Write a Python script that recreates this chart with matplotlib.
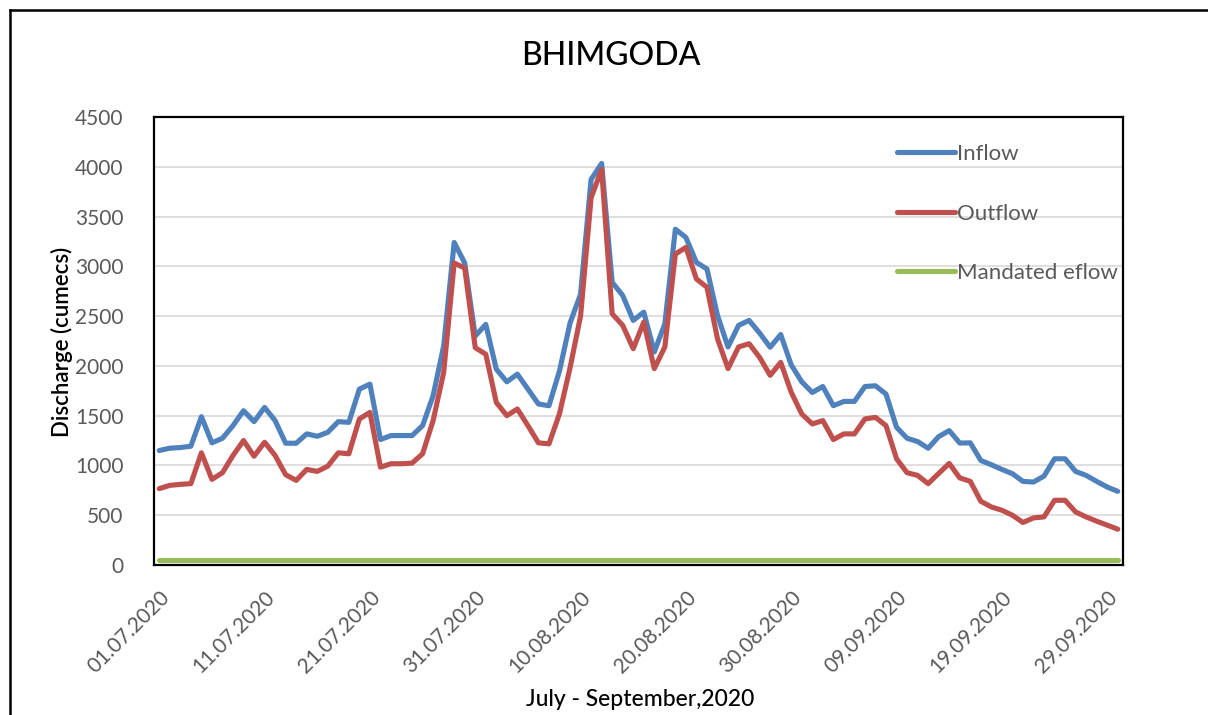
import matplotlib
matplotlib.use("Agg")
import matplotlib.pyplot as plt
from matplotlib.lines import Line2D

plt.rcParams['font.family'] = ['Lato', 'DejaVu Sans']

dates = ["01.07.2020", "11.07.2020", "21.07.2020", "31.07.2020", "10.08.2020",
         "20.08.2020", "30.08.2020", "09.09.2020", "19.09.2020", "29.09.2020"]
tick_idx = [0, 10, 20, 30, 40, 50, 60, 70, 80, 90]

inflow = [1150, 1173, 1180, 1193, 1490, 1227, 1273, 1400, 1550, 1440,
          1583, 1450, 1223, 1223, 1317, 1293, 1333, 1440, 1433, 1767,
          1817, 1260, 1300, 1300, 1300, 1400, 1700, 2200, 3240, 3033,
          2300, 2417, 1967, 1840, 1917, 1767, 1617, 1600, 1950, 2430,
          2720, 3873, 4033, 2840, 2707, 2457, 2540, 2140, 2423, 3373,
          3290, 3040, 2973, 2507, 2190, 2407, 2457, 2330, 2187, 2315,
          2010, 1840, 1733, 1793, 1600, 1643, 1643, 1793, 1800, 1717,
          1383, 1273, 1240, 1173, 1290, 1350, 1225, 1227, 1050, 1007,
          960, 917, 840, 833, 893, 1067, 1067, 940, 900, 840,
          783, 740]

outflow = [767, 800, 810, 817, 1127, 860, 927, 1100, 1250, 1093,
           1233, 1100, 907, 850, 960, 940, 993, 1127, 1117, 1467,
           1533, 983, 1017, 1017, 1023, 1117, 1450, 1933, 3033, 2983,
           2183, 2117, 1633, 1500, 1567, 1400, 1227, 1217, 1520, 1980,
           2500, 3690, 3973, 2523, 2407, 2173, 2440, 1973, 2190, 3123,
           3190, 2873, 2790, 2273, 1973, 2190, 2223, 2085, 1905, 2035,
           1735, 1517, 1417, 1450, 1260, 1317, 1317, 1467, 1483, 1400,
           1067, 927, 900, 817, 920, 1020, 875, 840, 640, 583,
           550, 500, 427, 473, 483, 650, 650, 533, 483, 440,
           400, 360]

eflow = [55] * 92

yticks = [0, 500, 1000, 1500, 2000, 2500, 3000, 3500, 4000, 4500]

W, H = 1208, 715
fig = plt.figure(figsize=(W / 100, H / 100), dpi=100)

# outer frame (left and top edges visible)
fig.add_artist(Line2D([10 / W, 10 / W], [0, 1 - 10 / H], transform=fig.transFigure,
                      color='black', lw=1.8))
fig.add_artist(Line2D([10 / W, 1], [1 - 10 / H, 1 - 10 / H], transform=fig.transFigure,
                      color='black', lw=1.8))

left, right, top, bottom = 154, 1123, 117, 565
ax = fig.add_axes([left / W, 1 - bottom / H, (right - left) / W, (bottom - top) / H])

x = list(range(len(inflow)))
lw = 3.7
ax.plot(x, inflow, color='#4F81BD', lw=lw, label='Inflow', solid_capstyle='round', zorder=3)
ax.plot(x, outflow, color='#C0504D', lw=lw, label='Outflow', solid_capstyle='round', zorder=3)
ax.plot(x, eflow, color='#9BBB59', lw=lw, label='Mandated eflow', solid_capstyle='round', zorder=3)

ax.set_xlim(-0.5, len(inflow) - 0.5)
ax.set_ylim(0, 4500)
ax.set_yticks(yticks)
ax.set_yticklabels([str(v) for v in yticks])
ax.set_xticks(tick_idx)
ax.set_xticklabels(dates, rotation=45, ha='right', va='top', rotation_mode='anchor')
ax.tick_params(axis='both', length=0, labelsize=15, colors='#595959')
ax.tick_params(axis='y', pad=22)
ax.tick_params(axis='x', pad=16)

ax.grid(axis='y', color='#D9D9D9', lw=1.2, zorder=0)
ax.set_axisbelow(True)
for s in ax.spines.values():
    s.set_color('black')
    s.set_linewidth(1.6)

fig.text(62 / W, 1 - 342 / H, 'Discharge (cumecs)', fontsize=16, color='black',
         ha='center', va='center', rotation=90, fontweight='semibold')
fig.text(640 / W, 1 - 700 / H, 'July - September,2020', fontsize=16.5, color='black',
         ha='center', va='center', fontweight='medium')
fig.text(611 / W, 1 - 56 / H, 'BHIMGODA', fontsize=23, color='black', ha='center', va='center',
         fontweight='medium')

fs_leg = 16
leg = ax.legend(loc='upper left', bbox_to_anchor=((897 - left) / (right - left), 1 - (144 - top) / (bottom - top)),
                frameon=False, fontsize=fs_leg, handlelength=2.6, handletextpad=0.12,
                labelspacing=1.78, borderaxespad=0, borderpad=0)
for t in leg.get_texts():
    t.set_color('#595959')

fig.savefig('out.png', dpi=100, facecolor='white')
